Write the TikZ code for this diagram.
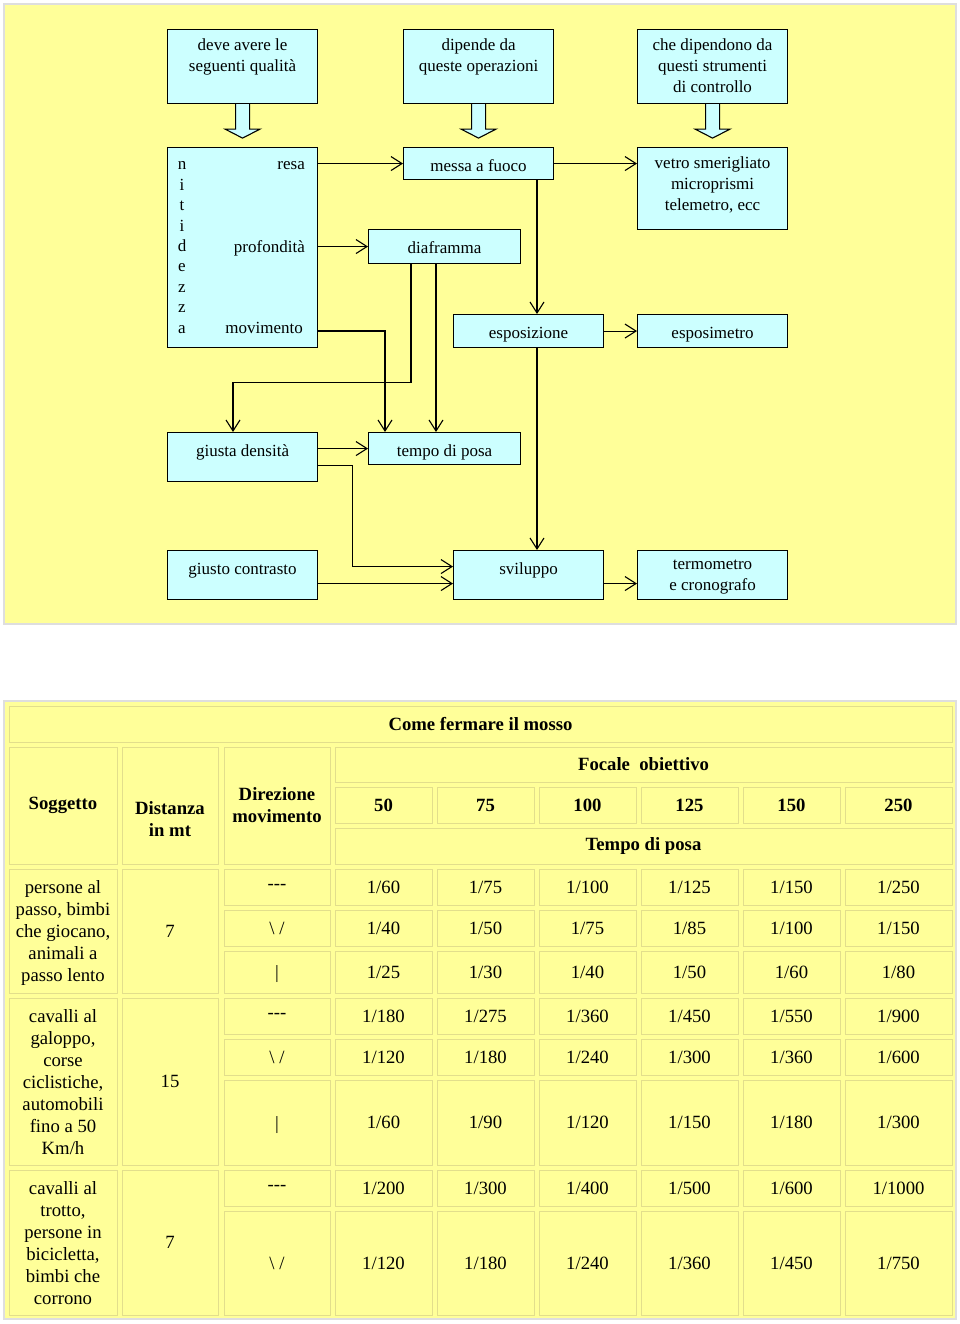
\documentclass[tikz,border=0pt]{standalone}
\usepackage{fontspec}
\setmainfont{Liberation Serif}
\usetikzlibrary{arrows.meta}
\definecolor{yel}{RGB}{255,255,153}
\definecolor{boxcyan}{RGB}{204,255,255}
\definecolor{cellline}{RGB}{226,222,140}
\definecolor{frame}{RGB}{222,222,222}
\newcommand{\dfont}{\fontsize{17}{21}\selectfont}
\newcommand{\tfont}{\fontsize{18.7}{22}\selectfont}

\begin{document}
\begin{tikzpicture}[x=1pt,y=-1pt,
  box/.style={draw, fill=boxcyan, line width=1.1pt, minimum width=150pt, anchor=north west, inner sep=0pt},
  lbl/.style={anchor=north, inner sep=0pt, yshift=-9.5pt, align=center, font=\dfont, execute at begin node=\strut},
  word/.style={font=\dfont, inner sep=0pt},
  conn/.style={line width=1.1pt, -{Straight Barb[length=11pt,width=14pt,line width=1.1pt]}},
  bigarrow/.style={draw, fill=boxcyan, line width=1.1pt, line join=miter},
  tcell/.style={draw=cellline, fill=yel, line width=1pt, inner sep=2pt},
  tval/.style={font=\tfont, align=center, text depth=0pt},
  thead/.style={font=\tfont\bfseries, align=center}]
\useasboundingbox (0,0) rectangle (960,1324);
\fill[white] (0,0) rectangle (960,1324);

% schema
\draw[fill=yel, draw=frame, line width=1.5pt] (4,4) rectangle (956,624);
\node[box, minimum height=74pt, label={[lbl]north:{deve avere le\\seguenti qualità}}] (qual) at (167,29) {};
\node[box, minimum height=74pt, label={[lbl]north:{dipende da\\queste operazioni}}] (oper) at (403,29) {};
\node[box, minimum height=74pt, label={[lbl]north:{che dipendono da\\questi strumenti\\di controllo}}] (strum) at (637,29) {};
\foreach \q in {qual,oper,strum}
  \draw[bigarrow] (\q.south) ++(-7,0) -- ++(0,25) -- ++(-10.5,0) -- ++(17.5,9) -- ++(17.5,-9) -- ++(-10.5,0) -- ++(0,-25);

\node[box, minimum height=200pt] (nit) at (167,147) {};
\foreach \c [count=\i from 0] in {n,i,t,i,d,e,z,z,a}
  \node[word, anchor=base] (let\i) at (182,170+20.4*\i) {\c};
\node[word, anchor=base east] (resa) at (305,170) {resa};
\node[word, anchor=base east] (prof) at (305,252) {profondità};
\node[word, anchor=base east] (mov) at (303,333) {movimento};

\node[box, minimum height=32pt, label={[lbl]north:messa a fuoco}] (fuoco) at (403,147) {};
\node[box, minimum height=82pt, label={[lbl]north:{vetro smerigliato\\microprismi\\telemetro, ecc}}] (vetro) at (637,147) {};
\node[box, minimum width=152pt, minimum height=34pt, label={[lbl]north:diaframma}] (diaf) at (368,229) {};
\node[box, minimum height=33pt, label={[lbl]north:esposizione}] (espo) at (453,314) {};
\node[box, minimum height=33pt, label={[lbl]north:esposimetro}] (expm) at (637,314) {};
\node[box, minimum height=49pt, label={[lbl]north:giusta densità}] (dens) at (167,432) {};
\node[box, minimum width=152pt, minimum height=32pt, label={[lbl]north:tempo di posa}] (posa) at (368,432) {};
\node[box, minimum height=49pt, label={[lbl]north:giusto contrasto}] (contr) at (167,550) {};
\node[box, minimum height=49pt, label={[lbl]north:sviluppo}] (svil) at (453,550) {};
\node[box, minimum height=49pt, label={[lbl]north:{termometro\\e cronografo}}] (term) at (637,550) {};

\draw[conn] (nit.east |- fuoco.west) -- (fuoco.west);
\draw[conn] (fuoco.east) -- (vetro.west |- fuoco.east);
\draw[conn] (nit.east |- diaf.west) -- (diaf.west);
\draw[conn] ([yshift=2pt]nit.east |- mov.base) -| ([xshift=17pt]posa.north west);
\draw[conn] ([xshift=43pt]diaf.south west) -- ++(0,118) -| ([xshift=66pt]dens.north west);
\draw[conn] ([xshift=68pt]diaf.south west) -- ([xshift=68pt]posa.north west);
\draw[conn] ([xshift=84pt]fuoco.south west) ++(50,0) -- ([xshift=84pt]espo.north west);
\draw[conn] (espo.east) -- (expm.west);
\draw[conn] ([xshift=84pt]espo.south west) -- ([xshift=84pt]svil.north west);
\draw[conn] (dens.east |- posa.west) -- (posa.west);
\draw[conn] ([yshift=-8pt]dens.east) -- ++(34,0) |- ([yshift=8.5pt]svil.west);
\draw[conn] ([yshift=-8.5pt]contr.east) -- ([yshift=-8.5pt]svil.west);
\draw[conn] ([yshift=-8.5pt]svil.east) -- ([yshift=-8.5pt]term.west);

% tabella
\draw[fill=yel, draw=frame, line width=1.5pt] (4,701) rectangle (956,1319);
\node[tcell, thead, minimum width=943pt, minimum height=36pt] (titolo) at (480.5,724) {Come fermare il mosso};
\node[tcell, thead, minimum width=108pt, minimum height=117pt] (sogg) at (63,805.5) {\raisebox{-2pt}{Soggetto}};
\node[tcell, minimum width=96pt, minimum height=117pt] (dist) at (170,805.5) {};
\node[thead, inner sep=0pt] (distt) at (170,819) {Distanza\\in mt};
\node[tcell, thead, minimum width=106pt, minimum height=117pt] (dire) at (277,805.5) {Direzione\\movimento};
\node[tcell, thead, minimum width=617pt, minimum height=35pt] (focale) at (643.5,764.5) {\raisebox{-2pt}{Focale\ \ obiettivo}};
\node[tcell, thead, minimum width=617pt, minimum height=36pt] (tempo) at (643.5,846) {\raisebox{-2pt}{Tempo di posa}};
\foreach \f [count=\k from 1] in {50,75,100,125,150,250} {
  \pgfmathsetmacro{\xl}{{224,335,437,539,641,743,845}[\k]}
  \pgfmathsetmacro{\xr}{{330,432,534,636,738,840,952}[\k]}
  \pgfmathsetmacro{\w}{\xr-\xl}
  \node[tcell, thead, minimum width=\w pt, minimum height=36pt] (foc\k) at ({(\xl+\xr)/2},805) {\raisebox{-2pt}{\f}};
}

\node[tcell, tval, minimum width=108pt, minimum height=124pt] (sg1) at (63,931) {persone al\\passo, bimbi\\che giocano,\\animali a\\passo lento};
\node[tcell, tval, minimum width=96pt, minimum height=124pt] (ds1) at (170,931) {7};
\node[tcell, tval, minimum width=108pt, minimum height=167pt] (sg2) at (63,1081.5) {cavalli al\\galoppo,\\corse\\ciclistiche,\\automobili\\fino a 50\\Km/h};
\node[tcell, tval, minimum width=96pt, minimum height=167pt] (ds2) at (170,1081.5) {15};
\node[tcell, tval, minimum width=108pt, minimum height=145pt] (sg3) at (63,1242.5) {cavalli al\\trotto,\\persone in\\bicicletta,\\bimbi che\\corrono};
\node[tcell, tval, minimum width=96pt, minimum height=145pt] (ds3) at (170,1242.5) {7};

\foreach \yt/\yb/\vals [count=\r] in {
    869/905/{-{}-{}-,1/60,1/75,1/100,1/125,1/150,1/250},
    910/946/{\textbackslash\ /,1/40,1/50,1/75,1/85,1/100,1/150},
    951/993/{|,1/25,1/30,1/40,1/50,1/60,1/80},
    998/1034/{-{}-{}-,1/180,1/275,1/360,1/450,1/550,1/900},
    1039/1075/{\textbackslash\ /,1/120,1/180,1/240,1/300,1/360,1/600},
    1080/1165/{|,1/60,1/90,1/120,1/150,1/180,1/300},
    1170/1206/{-{}-{}-,1/200,1/300,1/400,1/500,1/600,1/1000},
    1211/1315/{\textbackslash\ /,1/120,1/180,1/240,1/360,1/450,1/750}} {
  \foreach \v [count=\k from 0] in \vals {
    \pgfmathsetmacro{\xl}{{224,335,437,539,641,743,845}[\k]}
    \pgfmathsetmacro{\xr}{{330,432,534,636,738,840,952}[\k]}
    \pgfmathsetmacro{\w}{\xr-\xl}
    \pgfmathsetmacro{\h}{\yb-\yt}
    \node[tcell, tval, minimum width=\w pt, minimum height=\h pt] (v\r\k) at ({(\xl+\xr)/2},{(\yt+\yb)/2}) {\v};
  }
}
\end{tikzpicture}
\end{document}
